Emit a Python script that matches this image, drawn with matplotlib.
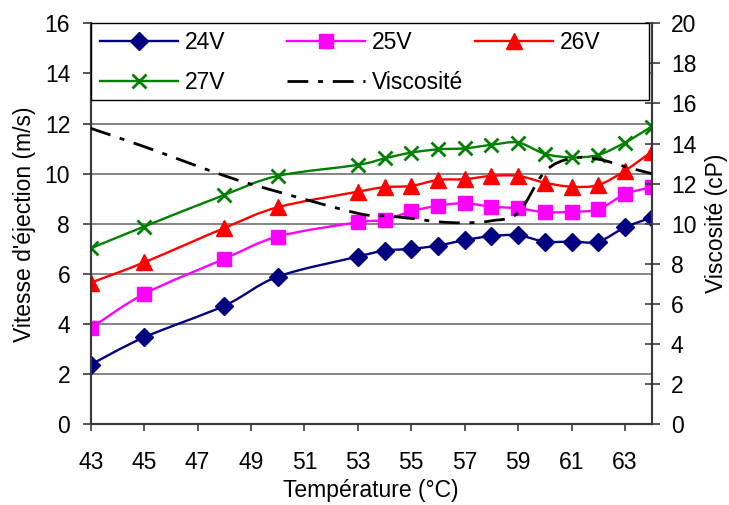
import numpy as np
import matplotlib
matplotlib.use("Agg")
import matplotlib.pyplot as plt
from matplotlib.path import Path
from matplotlib.patches import PathPatch, Rectangle
from matplotlib.lines import Line2D

plt.rcParams['font.family'] = ['Liberation Sans', 'DejaVu Sans']

# ---- data ----
temperature = [43, 45, 48, 50, 53, 54, 55, 56, 57, 58, 59, 60, 61, 62, 63, 64]
v24 = [2.38, 3.47, 4.73, 5.89, 6.69, 6.93, 7.00, 7.13, 7.35, 7.51, 7.54, 7.29, 7.29, 7.29, 7.86, 8.25]
v25 = [3.83, 5.20, 6.60, 7.49, 8.06, 8.15, 8.50, 8.72, 8.82, 8.68, 8.62, 8.46, 8.48, 8.58, 9.18, 9.46]
v26 = [5.65, 6.46, 7.83, 8.66, 9.28, 9.46, 9.51, 9.75, 9.78, 9.91, 9.91, 9.64, 9.48, 9.55, 10.12, 10.88]
v27 = [7.02, 7.89, 9.15, 9.91, 10.35, 10.61, 10.84, 10.97, 11.01, 11.15, 11.24, 10.79, 10.65, 10.75, 11.24, 11.88]
viscosity = [14.76, 13.85, 12.40, 11.60, 10.52, 10.40, 10.27, 10.10, 10.05, 10.15, 10.55, 12.60, 13.27, 13.22, 12.85, 12.50]
series_labels = ["24V", "25V", "26V", "27V"]
visc_label = "Viscosité"
xticks = [43, 45, 47, 49, 51, 53, 55, 57, 59, 61, 63]


def smooth_path(xs, ys):
    pts = np.column_stack([xs, ys]).astype(float)
    n = len(pts)
    verts = [pts[0]]
    codes = [Path.MOVETO]
    for i in range(n - 1):
        p0 = pts[i - 1] if i > 0 else pts[i]
        p1 = pts[i]
        p2 = pts[i + 1]
        p3 = pts[i + 2] if i + 2 < n else pts[i + 1]
        verts += [p1 + (p2 - p0) / 6.0, p2 - (p3 - p1) / 6.0, p2]
        codes += [Path.CURVE4] * 3
    return Path(verts, codes)


fig = plt.figure(figsize=(7.29, 5.05), dpi=100)
ax = fig.add_axes([0.1244, 0.1598, 0.894 - 0.1244, 0.9539 - 0.1598])
ax2 = ax.twinx()

FS = 16.5
axis_col = '#3a3a3a'

styles = [
    dict(color='#000080', marker='D', ms=9.5),
    dict(color='#FF00FF', marker='s', ms=10),
    dict(color='#FF0000', marker='^', ms=11),
    dict(color='#008000', marker='x', ms=10),
]
data = [v24, v25, v26, v27]
handles = []
for vals, st, lab in zip(data, styles, series_labels):
    ax.add_patch(PathPatch(smooth_path(temperature, vals), fill=False,
                           edgecolor=st['color'], lw=1.7, zorder=3))
    mew = 2.0 if st['marker'] == 'x' else 1.0
    ax.plot(temperature, vals, linestyle='none', marker=st['marker'],
            ms=st['ms'], color=st['color'], mec=st['color'], mew=mew, zorder=4)
    handles.append(Line2D([], [], color=st['color'], lw=1.7, marker=st['marker'],
                          ms=st['ms'], mec=st['color'], mew=mew))

dash = (0, (7.5, 3.5, 1.8, 3.5))
ax2.add_patch(PathPatch(smooth_path(temperature, viscosity), fill=False,
                        edgecolor='black', lw=2.0, linestyle=dash, zorder=3))
handles.append(Line2D([], [], color='black', lw=2.0, linestyle=dash))

# axes limits/ticks
ax.set_xlim(43, 64)
ax.set_ylim(0, 16)
ax2.set_ylim(0, 20)
ax.set_xticks(xticks)
ax.set_yticks(np.arange(0, 17, 2))
ax2.set_yticks(np.arange(0, 21, 2))
ax.yaxis.grid(True, color='#707070', lw=1.2)
ax.set_axisbelow(True)

ax.tick_params(axis='y', direction='out', length=5.8, width=1.2, color=axis_col,
               labelsize=FS, pad=9)
ax.tick_params(axis='x', direction='out', length=5, width=1.2, color=axis_col,
               labelsize=FS, pad=14)
ax2.tick_params(axis='y', direction='inout', length=10.8, width=1.2, color=axis_col,
                labelsize=FS, pad=8.4)

for a in (ax, ax2):
    a.spines['top'].set_visible(False)
    for s in ('left', 'bottom', 'right'):
        a.spines[s].set_color(axis_col)
        a.spines[s].set_linewidth(1.5)

ax.set_xlabel("Température (°C)", fontsize=FS, labelpad=4)
ax.set_ylabel("Vitesse d'éjection (m/s)", fontsize=FS, labelpad=6)
ax2.set_ylabel("Viscosité (cP)", fontsize=FS, labelpad=6)

# legend frame spanning the top of the plot area
y0 = 0.8087
ax2.add_patch(Rectangle((0, y0), 0.995, 1 - y0, transform=ax2.transAxes,
                        facecolor='white', edgecolor='black', lw=1.0,
                        zorder=10, clip_on=False))

labels = series_labels + [visc_label]
cols = [([handles[0], handles[3]], [labels[0], labels[3]], 0.0166),
        ([handles[1], handles[4]], [labels[1], labels[4]], 0.350),
        ([handles[2]], [labels[2]], 0.685)]
leg_objs = []
for hs, ls, xpos in cols:
    lg = ax2.legend(hs, ls, loc='upper left', bbox_to_anchor=(xpos, 0.981),
                    bbox_transform=ax2.transAxes, frameon=False, fontsize=FS,
                    borderpad=0, borderaxespad=0, handlelength=3.4,
                    handletextpad=0.3, labelspacing=0.74, numpoints=1)
    lg.set_zorder(11)
    leg_objs.append(lg)
for lg in leg_objs[:-1]:
    ax2.add_artist(lg)

fig.savefig("out.png", dpi=100)
